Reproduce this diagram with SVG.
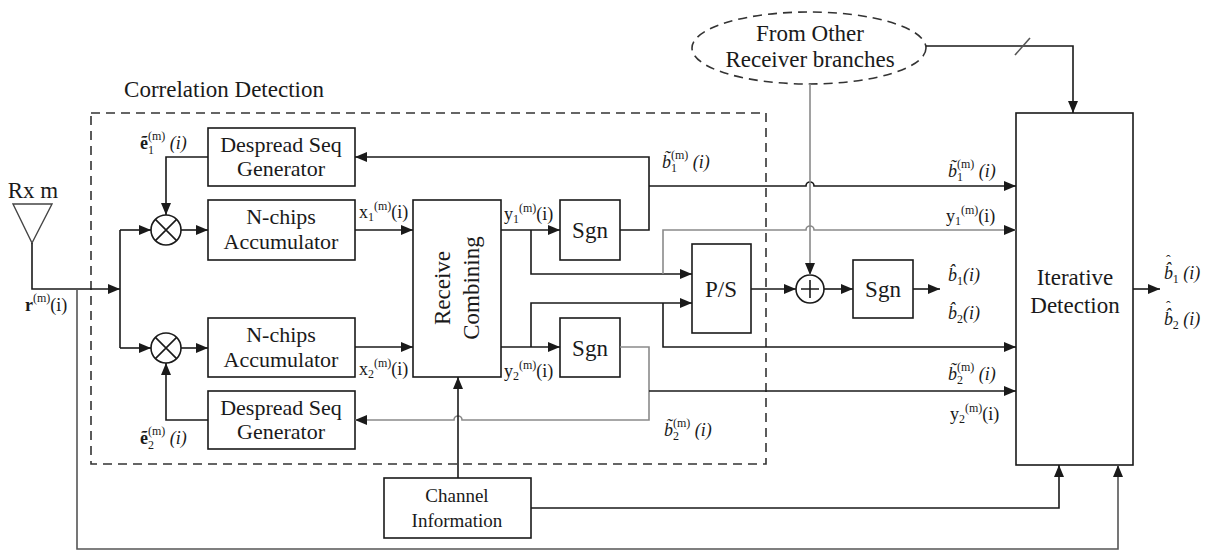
<svg xmlns="http://www.w3.org/2000/svg" width="1225" height="552" viewBox="0 0 1225 552" font-family="'Liberation Serif','DejaVu Serif',serif">
<style>
text{font-family:"Liberation Serif","DejaVu Serif",serif;fill:#1a1a1a}
.t{font-size:23px;text-anchor:middle}
.tb{font-size:22px;text-anchor:middle}
.ts{font-size:19px;text-anchor:middle}
.l{font-size:18px}
.s{font-size:12px}
.box{fill:#fff;stroke:#1a1a1a;stroke-width:1.6}
.c{fill:none;stroke:#1a1a1a;stroke-width:1.6}
.g{fill:none;stroke:#8a8a8a;stroke-width:1.6}
.m{fill:none;stroke:#555;stroke-width:1.6}
.dash{fill:none;stroke:#333;stroke-width:1.6;stroke-dasharray:9,6}
</style>
<defs>
<marker id="a" viewBox="0 0 12 10" refX="12" refY="5" markerWidth="12" markerHeight="10" markerUnits="userSpaceOnUse" orient="auto"><path d="M0,0 L12,5 L0,10 z" fill="#1a1a1a"/></marker>
</defs>

<g id="correlation-detection">
<rect class="dash" x="91" y="113" width="675" height="351"/>
<text class="t" x="224" y="97">Correlation Detection</text>
</g>

<g id="antenna">
<polygon points="13,204 52,204 32,243" fill="none" stroke="#444" stroke-width="1.4"/>
<text class="t" x="33" y="198">Rx m</text>
<text class="l" x="25" y="311"><tspan font-weight="bold">r</tspan><tspan class="s" dy="-9">(m)</tspan><tspan dy="9">(i)</tspan></text>
</g>

<g id="mult1"><circle cx="166" cy="230" r="15" class="box"/><path class="c" d="M155.4,219.4 L176.6,240.6 M176.6,219.4 L155.4,240.6"/></g>
<g id="mult2"><circle cx="166" cy="348" r="15" class="box"/><path class="c" d="M155.4,337.4 L176.6,358.6 M176.6,337.4 L155.4,358.6"/></g>

<g id="despread1"><rect class="box" x="208" y="128" width="147" height="58"/><text class="tb" x="281" y="152">Despread Seq</text><text class="tb" x="281" y="176">Generator</text>
<text class="l" x="140" y="149"><tspan font-weight="bold">ẽ</tspan><tspan class="s" dy="5">1</tspan><tspan class="s" dx="-6" dy="-14">(m)</tspan><tspan font-style="italic" dy="9"> (i)</tspan></text></g>
<g id="acc1"><rect class="box" x="208" y="200" width="147" height="60"/><text class="tb" x="281" y="224">N-chips</text><text class="tb" x="281" y="249">Accumulator</text></g>
<g id="acc2"><rect class="box" x="208" y="318" width="147" height="59"/><text class="tb" x="281" y="342">N-chips</text><text class="tb" x="281" y="367">Accumulator</text></g>
<g id="despread2"><rect class="box" x="208" y="391" width="147" height="58"/><text class="tb" x="281" y="415">Despread Seq</text><text class="tb" x="281" y="439">Generator</text>
<text class="l" x="140" y="444"><tspan font-weight="bold">ẽ</tspan><tspan class="s" dy="5">2</tspan><tspan class="s" dx="-6" dy="-14">(m)</tspan><tspan font-style="italic" dy="9"> (i)</tspan></text></g>

<g id="receive-combining"><rect class="box" x="413" y="200" width="88" height="177"/>
<text class="t" transform="translate(450,288) rotate(-90)">Receive</text>
<text class="t" transform="translate(479,288) rotate(-90)">Combining</text></g>

<g id="sgn1"><rect class="box" x="560" y="200" width="60" height="60"/><text class="t" x="590" y="238">Sgn</text></g>
<g id="sgn2"><rect class="box" x="560" y="318" width="60" height="59"/><text class="t" x="590" y="356">Sgn</text></g>
<g id="ps"><rect class="box" x="692" y="244" width="59" height="89"/><text class="t" x="721" y="297">P/S</text></g>
<g id="plus"><circle cx="810" cy="289" r="14" class="box"/><path class="c" d="M801,289 H819 M810,280 V298"/></g>
<g id="sgn3"><rect class="box" x="853" y="260" width="60" height="58"/><text class="t" x="883" y="297">Sgn</text></g>

<g id="from-other"><ellipse cx="809" cy="48" rx="117" ry="36" class="dash" fill="#fff"/>
<text class="t" x="810" y="41">From Other</text><text class="t" x="810" y="67">Receiver branches</text></g>

<g id="iterative"><rect class="box" x="1016" y="113" width="117" height="352"/>
<text class="t" x="1075" y="285">Iterative</text><text class="t" x="1075" y="313">Detection</text></g>

<g id="channel"><rect class="box" x="384" y="478" width="147" height="60"/>
<text class="ts" x="457" y="502">Channel</text><text class="ts" x="457" y="527">Information</text></g>

<g id="connectors">
<path class="c" d="M32,243 V289 H120" marker-end="url(#a)"/>
<path class="c" d="M120,230 V348"/>
<path class="c" d="M120,230 H151" marker-end="url(#a)"/>
<path class="c" d="M120,348 H151" marker-end="url(#a)"/>
<path class="m" d="M77,289 V549 H1118 V465" marker-end="url(#a)"/>
<path class="c" d="M181,230 H208" marker-end="url(#a)"/>
<path class="c" d="M181,348 H208" marker-end="url(#a)"/>
<path class="c" d="M208,157 H166 V215" marker-end="url(#a)"/>
<path class="c" d="M208,420 H166 V363" marker-end="url(#a)"/>
<path class="c" d="M355,230 H413" marker-end="url(#a)"/>
<path class="c" d="M355,347 H413" marker-end="url(#a)"/>
<path class="c" d="M501,230 H560" marker-end="url(#a)"/>
<path class="c" d="M531,230 V274 H692" marker-end="url(#a)"/>
<path class="c" d="M501,347 H560" marker-end="url(#a)"/>
<path class="c" d="M531,347 V303 H692" marker-end="url(#a)"/>
<path class="c" d="M620,230 H649 V157 H355" marker-end="url(#a)"/>
<path class="c" d="M649,186 H806 A4,4 0 0 1 814,186 H1016" marker-end="url(#a)"/>
<path class="g" d="M663,274 V230 H806 A4,4 0 0 1 814,230 H1016" marker-end="url(#a)"/>
<path class="c" d="M663,303 V347 H1016" marker-end="url(#a)"/>
<path class="g" d="M620,347 H649 V420 H462 A4,4 0 0 0 454,420 H355" marker-end="url(#a)"/>
<path class="c" d="M649,391 H1016" marker-end="url(#a)"/>
<path class="c" d="M751,289 H796" marker-end="url(#a)"/>
<path class="g" d="M810,84 V275" marker-end="url(#a)"/>
<path class="c" d="M824,289 H853" marker-end="url(#a)"/>
<path class="c" d="M913,289 H940" marker-end="url(#a)"/>
<path class="c" d="M926,46 H1073 V113" marker-end="url(#a)"/>
<path class="m" d="M1015,55 L1030,38" stroke-width="1.2"/>
<path class="c" d="M1133,289 H1160" marker-end="url(#a)"/>
<path class="c" d="M458,478 V377" marker-end="url(#a)"/>
<path class="c" d="M531,508 H1059 V465" marker-end="url(#a)"/>
</g>

<g id="labels">
<text class="l" x="359" y="218">x<tspan class="s" dy="3">1</tspan><tspan class="s" dy="-11">(m)</tspan><tspan dy="8">(i)</tspan></text>
<text class="l" x="359" y="375">x<tspan class="s" dy="3">2</tspan><tspan class="s" dy="-11">(m)</tspan><tspan dy="8">(i)</tspan></text>
<text class="l" x="504" y="220">y<tspan class="s" dy="3">1</tspan><tspan class="s" dy="-11">(m)</tspan><tspan dy="8">(i)</tspan></text>
<text class="l" x="504" y="377">y<tspan class="s" dy="3">2</tspan><tspan class="s" dy="-11">(m)</tspan><tspan dy="8">(i)</tspan></text>
<text class="l" x="662" y="168"><tspan font-style="italic">b̃</tspan><tspan class="s" dy="4">1</tspan><tspan class="s" dx="-6" dy="-13">(m)</tspan><tspan font-style="italic" dy="9"> (i)</tspan></text>
<text class="l" x="664" y="436"><tspan font-style="italic">b̃</tspan><tspan class="s" dy="4">2</tspan><tspan class="s" dx="-6" dy="-13">(m)</tspan><tspan font-style="italic" dy="9"> (i)</tspan></text>
<text class="l" x="948" y="177"><tspan font-style="italic">b̃</tspan><tspan class="s" dy="4">1</tspan><tspan class="s" dx="-6" dy="-13">(m)</tspan><tspan font-style="italic" dy="9"> (i)</tspan></text>
<text class="l" x="946" y="222">y<tspan class="s" dy="3">1</tspan><tspan class="s" dy="-11">(m)</tspan><tspan dy="8">(i)</tspan></text>
<text class="l" x="948" y="380"><tspan font-style="italic">b̃</tspan><tspan class="s" dy="4">2</tspan><tspan class="s" dx="-6" dy="-13">(m)</tspan><tspan font-style="italic" dy="9"> (i)</tspan></text>
<text class="l" x="950" y="420">y<tspan class="s" dy="3">2</tspan><tspan class="s" dy="-11">(m)</tspan><tspan dy="8">(i)</tspan></text>
<text class="l" x="948" y="281"><tspan font-style="italic">b̂</tspan><tspan class="s" dy="4">1</tspan><tspan font-style="italic" dy="-4">(i)</tspan></text>
<text class="l" x="948" y="319"><tspan font-style="italic">b̂</tspan><tspan class="s" dy="4">2</tspan><tspan font-style="italic" dy="-4">(i)</tspan></text>
<text class="l" x="1164" y="279"><tspan font-style="italic">b̂</tspan><tspan font-size="14" dx="-7" dy="-14">ˆ</tspan><tspan class="s" dx="2" dy="18">1</tspan><tspan font-style="italic" dy="-4"> (i)</tspan></text>
<text class="l" x="1164" y="325"><tspan font-style="italic">b̂</tspan><tspan font-size="14" dx="-7" dy="-14">ˆ</tspan><tspan class="s" dx="2" dy="18">2</tspan><tspan font-style="italic" dy="-4"> (i)</tspan></text>
</g>
</svg>
